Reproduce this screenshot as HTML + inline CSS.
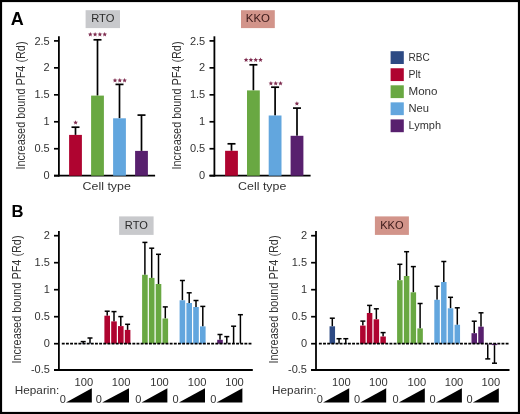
<!DOCTYPE html>
<html><head><meta charset="utf-8"><style>
html,body{margin:0;padding:0;background:#fff;}
body{width:520px;height:414px;overflow:hidden;font-family:"Liberation Sans",sans-serif;}
svg{display:block;will-change:transform;}
</style></head><body>
<svg width="520" height="414" viewBox="0 0 520 414" font-family="Liberation Sans, sans-serif">
<rect x="0" y="0" width="520" height="414" fill="#fff"/>
<text x="10.8" y="24.6" font-size="17.5" text-anchor="start" fill="#000" textLength="13" lengthAdjust="spacingAndGlyphs" font-weight="bold">A</text>
<text x="11.6" y="216.6" font-size="16" text-anchor="start" fill="#000" textLength="12" lengthAdjust="spacingAndGlyphs" font-weight="bold">B</text>
<rect x="85.60" y="10.20" width="34.40" height="17.90" fill="#c8c9cc"/>
<text x="102.8" y="22.2" font-size="11.8" text-anchor="middle" fill="#2a2a2a" textLength="23.2" lengthAdjust="spacingAndGlyphs" >RTO</text>
<line x1="58.9" y1="36.3" x2="58.9" y2="176.6" stroke="#000" stroke-width="1.8" />
<line x1="54.0" y1="175.7" x2="155.1" y2="175.7" stroke="#000" stroke-width="1.8" />
<line x1="54.0" y1="175.7" x2="58.9" y2="175.7" stroke="#000" stroke-width="1.7" />
<text x="49.7" y="179.29999999999998" font-size="11" text-anchor="end" fill="#333333" >0</text>
<line x1="54.0" y1="148.73999999999998" x2="58.9" y2="148.73999999999998" stroke="#000" stroke-width="1.7" />
<text x="49.7" y="152.33999999999997" font-size="11" text-anchor="end" fill="#333333" >0.5</text>
<line x1="54.0" y1="121.77999999999999" x2="58.9" y2="121.77999999999999" stroke="#000" stroke-width="1.7" />
<text x="49.7" y="125.37999999999998" font-size="11" text-anchor="end" fill="#333333" >1</text>
<line x1="54.0" y1="94.82" x2="58.9" y2="94.82" stroke="#000" stroke-width="1.7" />
<text x="49.7" y="98.41999999999999" font-size="11" text-anchor="end" fill="#333333" >1.5</text>
<line x1="54.0" y1="67.85999999999999" x2="58.9" y2="67.85999999999999" stroke="#000" stroke-width="1.7" />
<text x="49.7" y="71.45999999999998" font-size="11" text-anchor="end" fill="#333333" >2</text>
<line x1="54.0" y1="40.89999999999998" x2="58.9" y2="40.89999999999998" stroke="#000" stroke-width="1.7" />
<text x="49.7" y="44.49999999999998" font-size="11" text-anchor="end" fill="#333333" >2.5</text>
<line x1="75.5" y1="134.9" x2="75.5" y2="127.2" stroke="#000" stroke-width="1.7" />
<line x1="71.5" y1="127.2" x2="79.5" y2="127.2" stroke="#000" stroke-width="1.7" />
<rect x="69.10" y="134.90" width="12.80" height="40.80" fill="#af0430"/>
<line x1="97.5" y1="95.6" x2="97.5" y2="39.8" stroke="#000" stroke-width="1.7" />
<line x1="93.5" y1="39.8" x2="101.5" y2="39.8" stroke="#000" stroke-width="1.7" />
<rect x="91.10" y="95.60" width="12.80" height="80.10" fill="#69a842"/>
<line x1="119.5" y1="118.3" x2="119.5" y2="84.4" stroke="#000" stroke-width="1.7" />
<line x1="115.5" y1="84.4" x2="123.5" y2="84.4" stroke="#000" stroke-width="1.7" />
<rect x="113.10" y="118.30" width="12.80" height="57.40" fill="#62a6de"/>
<line x1="141.5" y1="150.9" x2="141.5" y2="115.1" stroke="#000" stroke-width="1.7" />
<line x1="137.5" y1="115.1" x2="145.5" y2="115.1" stroke="#000" stroke-width="1.7" />
<rect x="135.10" y="150.90" width="12.80" height="24.80" fill="#58206e"/>
<polygon points="75.60,120.15 76.25,121.71 77.93,121.84 76.65,122.94 77.04,124.58 75.60,123.70 74.16,124.58 74.55,122.94 73.27,121.84 74.95,121.71" fill="#7f2d50"/>
<polygon points="90.30,32.05 90.95,33.61 92.63,33.74 91.35,34.84 91.74,36.48 90.30,35.60 88.86,36.48 89.25,34.84 87.97,33.74 89.65,33.61" fill="#7f2d50"/>
<polygon points="95.10,32.05 95.75,33.61 97.43,33.74 96.15,34.84 96.54,36.48 95.10,35.60 93.66,36.48 94.05,34.84 92.77,33.74 94.45,33.61" fill="#7f2d50"/>
<polygon points="99.90,32.05 100.55,33.61 102.23,33.74 100.95,34.84 101.34,36.48 99.90,35.60 98.46,36.48 98.85,34.84 97.57,33.74 99.25,33.61" fill="#7f2d50"/>
<polygon points="104.70,32.05 105.35,33.61 107.03,33.74 105.75,34.84 106.14,36.48 104.70,35.60 103.26,36.48 103.65,34.84 102.37,33.74 104.05,33.61" fill="#7f2d50"/>
<polygon points="115.00,77.95 115.65,79.51 117.33,79.64 116.05,80.74 116.44,82.38 115.00,81.50 113.56,82.38 113.95,80.74 112.67,79.64 114.35,79.51" fill="#7f2d50"/>
<polygon points="119.80,77.95 120.45,79.51 122.13,79.64 120.85,80.74 121.24,82.38 119.80,81.50 118.36,82.38 118.75,80.74 117.47,79.64 119.15,79.51" fill="#7f2d50"/>
<polygon points="124.60,77.95 125.25,79.51 126.93,79.64 125.65,80.74 126.04,82.38 124.60,81.50 123.16,82.38 123.55,80.74 122.27,79.64 123.95,79.51" fill="#7f2d50"/>
<text transform="translate(25.3,169.5) rotate(-90)" font-size="13.5" fill="#333333" textLength="128" lengthAdjust="spacingAndGlyphs">Increased bound PF4 (Rd)</text>
<text x="106.69999999999999" y="189.6" font-size="11" text-anchor="middle" fill="#333333" textLength="48.2" lengthAdjust="spacingAndGlyphs" >Cell type</text>
<rect x="241.00" y="10.20" width="33.80" height="17.90" fill="#d2948a"/>
<text x="257.9" y="22.2" font-size="11.8" text-anchor="middle" fill="#3a1818" textLength="24.2" lengthAdjust="spacingAndGlyphs" >KKO</text>
<line x1="214.4" y1="36.3" x2="214.4" y2="176.6" stroke="#000" stroke-width="1.8" />
<line x1="209.5" y1="175.7" x2="310.6" y2="175.7" stroke="#000" stroke-width="1.8" />
<line x1="209.5" y1="175.7" x2="214.4" y2="175.7" stroke="#000" stroke-width="1.7" />
<text x="205.20000000000002" y="179.29999999999998" font-size="11" text-anchor="end" fill="#333333" >0</text>
<line x1="209.5" y1="148.73999999999998" x2="214.4" y2="148.73999999999998" stroke="#000" stroke-width="1.7" />
<text x="205.20000000000002" y="152.33999999999997" font-size="11" text-anchor="end" fill="#333333" >0.5</text>
<line x1="209.5" y1="121.77999999999999" x2="214.4" y2="121.77999999999999" stroke="#000" stroke-width="1.7" />
<text x="205.20000000000002" y="125.37999999999998" font-size="11" text-anchor="end" fill="#333333" >1</text>
<line x1="209.5" y1="94.82" x2="214.4" y2="94.82" stroke="#000" stroke-width="1.7" />
<text x="205.20000000000002" y="98.41999999999999" font-size="11" text-anchor="end" fill="#333333" >1.5</text>
<line x1="209.5" y1="67.85999999999999" x2="214.4" y2="67.85999999999999" stroke="#000" stroke-width="1.7" />
<text x="205.20000000000002" y="71.45999999999998" font-size="11" text-anchor="end" fill="#333333" >2</text>
<line x1="209.5" y1="40.89999999999998" x2="214.4" y2="40.89999999999998" stroke="#000" stroke-width="1.7" />
<text x="205.20000000000002" y="44.49999999999998" font-size="11" text-anchor="end" fill="#333333" >2.5</text>
<line x1="231.5" y1="150.8" x2="231.5" y2="143.8" stroke="#000" stroke-width="1.7" />
<line x1="227.5" y1="143.8" x2="235.5" y2="143.8" stroke="#000" stroke-width="1.7" />
<rect x="225.10" y="150.80" width="12.80" height="24.90" fill="#af0430"/>
<line x1="253.4" y1="90.4" x2="253.4" y2="64.8" stroke="#000" stroke-width="1.7" />
<line x1="249.4" y1="64.8" x2="257.4" y2="64.8" stroke="#000" stroke-width="1.7" />
<rect x="247.00" y="90.40" width="12.80" height="85.30" fill="#69a842"/>
<line x1="275.1" y1="115.5" x2="275.1" y2="87.2" stroke="#000" stroke-width="1.7" />
<line x1="271.1" y1="87.2" x2="279.1" y2="87.2" stroke="#000" stroke-width="1.7" />
<rect x="268.70" y="115.50" width="12.80" height="60.20" fill="#62a6de"/>
<line x1="297.0" y1="135.8" x2="297.0" y2="108.1" stroke="#000" stroke-width="1.7" />
<line x1="293.0" y1="108.1" x2="301.0" y2="108.1" stroke="#000" stroke-width="1.7" />
<rect x="290.60" y="135.80" width="12.80" height="39.90" fill="#58206e"/>
<polygon points="246.10,57.55 246.75,59.11 248.43,59.24 247.15,60.34 247.54,61.98 246.10,61.10 244.66,61.98 245.05,60.34 243.77,59.24 245.45,59.11" fill="#7f2d50"/>
<polygon points="250.90,57.55 251.55,59.11 253.23,59.24 251.95,60.34 252.34,61.98 250.90,61.10 249.46,61.98 249.85,60.34 248.57,59.24 250.25,59.11" fill="#7f2d50"/>
<polygon points="255.70,57.55 256.35,59.11 258.03,59.24 256.75,60.34 257.14,61.98 255.70,61.10 254.26,61.98 254.65,60.34 253.37,59.24 255.05,59.11" fill="#7f2d50"/>
<polygon points="260.50,57.55 261.15,59.11 262.83,59.24 261.55,60.34 261.94,61.98 260.50,61.10 259.06,61.98 259.45,60.34 258.17,59.24 259.85,59.11" fill="#7f2d50"/>
<polygon points="270.90,80.95 271.55,82.51 273.23,82.64 271.95,83.74 272.34,85.38 270.90,84.50 269.46,85.38 269.85,83.74 268.57,82.64 270.25,82.51" fill="#7f2d50"/>
<polygon points="275.70,80.95 276.35,82.51 278.03,82.64 276.75,83.74 277.14,85.38 275.70,84.50 274.26,85.38 274.65,83.74 273.37,82.64 275.05,82.51" fill="#7f2d50"/>
<polygon points="280.50,80.95 281.15,82.51 282.83,82.64 281.55,83.74 281.94,85.38 280.50,84.50 279.06,85.38 279.45,83.74 278.17,82.64 279.85,82.51" fill="#7f2d50"/>
<polygon points="296.90,101.15 297.55,102.71 299.23,102.84 297.95,103.94 298.34,105.58 296.90,104.70 295.46,105.58 295.85,103.94 294.57,102.84 296.25,102.71" fill="#7f2d50"/>
<text transform="translate(180.5,169.5) rotate(-90)" font-size="13.5" fill="#333333" textLength="128" lengthAdjust="spacingAndGlyphs">Increased bound PF4 (Rd)</text>
<text x="262.2" y="189.6" font-size="11" text-anchor="middle" fill="#333333" textLength="48.2" lengthAdjust="spacingAndGlyphs" >Cell type</text>
<rect x="390.60" y="51.20" width="13.20" height="12.80" fill="#2d4a84"/>
<text x="408.5" y="61.2" font-size="11" text-anchor="start" fill="#333333" textLength="21.2" lengthAdjust="spacingAndGlyphs" >RBC</text>
<rect x="390.60" y="68.25" width="13.20" height="12.80" fill="#af0430"/>
<text x="408.5" y="78.25" font-size="11" text-anchor="start" fill="#333333" textLength="12.2" lengthAdjust="spacingAndGlyphs" >Plt</text>
<rect x="390.60" y="85.30" width="13.20" height="12.80" fill="#69a842"/>
<text x="408.5" y="95.30000000000001" font-size="11" text-anchor="start" fill="#333333" textLength="29" lengthAdjust="spacingAndGlyphs" >Mono</text>
<rect x="390.60" y="102.35" width="13.20" height="12.80" fill="#62a6de"/>
<text x="408.5" y="112.35000000000001" font-size="11" text-anchor="start" fill="#333333" textLength="20.5" lengthAdjust="spacingAndGlyphs" >Neu</text>
<rect x="390.60" y="119.40" width="13.20" height="12.80" fill="#58206e"/>
<text x="408.5" y="129.4" font-size="11" text-anchor="start" fill="#333333" textLength="32.5" lengthAdjust="spacingAndGlyphs" >Lymph</text>
<rect x="119.10" y="216.40" width="34.50" height="18.50" fill="#c8c9cc"/>
<text x="136.35" y="229.3" font-size="11.8" text-anchor="middle" fill="#2a2a2a" textLength="23.0" lengthAdjust="spacingAndGlyphs" >RTO</text>
<line x1="58.9" y1="231.0" x2="58.9" y2="370.9" stroke="#000" stroke-width="1.8" />
<line x1="54.0" y1="370.0" x2="252.8" y2="370.0" stroke="#000" stroke-width="1.9" />
<line x1="54.0" y1="235.7" x2="58.9" y2="235.7" stroke="#000" stroke-width="1.7" />
<text x="49.9" y="239.1" font-size="11" text-anchor="end" fill="#333333" >2</text>
<line x1="54.0" y1="262.7" x2="58.9" y2="262.7" stroke="#000" stroke-width="1.7" />
<text x="49.9" y="266.09999999999997" font-size="11" text-anchor="end" fill="#333333" >1.5</text>
<line x1="54.0" y1="289.7" x2="58.9" y2="289.7" stroke="#000" stroke-width="1.7" />
<text x="49.9" y="293.09999999999997" font-size="11" text-anchor="end" fill="#333333" >1</text>
<line x1="54.0" y1="316.7" x2="58.9" y2="316.7" stroke="#000" stroke-width="1.7" />
<text x="49.9" y="320.09999999999997" font-size="11" text-anchor="end" fill="#333333" >0.5</text>
<line x1="54.0" y1="343.7" x2="58.9" y2="343.7" stroke="#000" stroke-width="1.7" />
<text x="49.9" y="347.09999999999997" font-size="11" text-anchor="end" fill="#333333" >0</text>
<line x1="54.0" y1="370.0" x2="58.9" y2="370.0" stroke="#000" stroke-width="1.7" />
<text x="49.9" y="373.4" font-size="11" text-anchor="end" fill="#333333" >-0.5</text>
<line x1="83.19999999999999" y1="343.3" x2="83.19999999999999" y2="341.6" stroke="#000" stroke-width="1.5" />
<line x1="80.69999999999999" y1="341.6" x2="85.69999999999999" y2="341.6" stroke="#000" stroke-width="1.5" />
<rect x="80.40" y="343.30" width="5.60" height="0.40" fill="#2d4a84"/>
<line x1="89.99999999999999" y1="343.2" x2="89.99999999999999" y2="338.0" stroke="#000" stroke-width="1.5" />
<line x1="87.49999999999999" y1="338.0" x2="92.49999999999999" y2="338.0" stroke="#000" stroke-width="1.5" />
<rect x="87.20" y="343.20" width="5.60" height="0.50" fill="#2d4a84"/>
<line x1="107.2" y1="315.7" x2="107.2" y2="311.2" stroke="#000" stroke-width="1.5" />
<line x1="104.7" y1="311.2" x2="109.7" y2="311.2" stroke="#000" stroke-width="1.5" />
<rect x="104.40" y="315.70" width="5.60" height="28.00" fill="#af0430"/>
<line x1="114.0" y1="321.4" x2="114.0" y2="311.6" stroke="#000" stroke-width="1.5" />
<line x1="111.5" y1="311.6" x2="116.5" y2="311.6" stroke="#000" stroke-width="1.5" />
<rect x="111.20" y="321.40" width="5.60" height="22.30" fill="#af0430"/>
<line x1="120.8" y1="326.1" x2="120.8" y2="316.6" stroke="#000" stroke-width="1.5" />
<line x1="118.3" y1="316.6" x2="123.3" y2="316.6" stroke="#000" stroke-width="1.5" />
<rect x="118.00" y="326.10" width="5.60" height="17.60" fill="#af0430"/>
<line x1="127.60000000000001" y1="329.9" x2="127.60000000000001" y2="324.3" stroke="#000" stroke-width="1.5" />
<line x1="125.10000000000001" y1="324.3" x2="130.10000000000002" y2="324.3" stroke="#000" stroke-width="1.5" />
<rect x="124.80" y="329.90" width="5.60" height="13.80" fill="#af0430"/>
<line x1="144.9" y1="274.8" x2="144.9" y2="242.4" stroke="#000" stroke-width="1.5" />
<line x1="142.4" y1="242.4" x2="147.4" y2="242.4" stroke="#000" stroke-width="1.5" />
<rect x="142.10" y="274.80" width="5.60" height="68.90" fill="#69a842"/>
<line x1="151.70000000000002" y1="277.9" x2="151.70000000000002" y2="248.2" stroke="#000" stroke-width="1.5" />
<line x1="149.20000000000002" y1="248.2" x2="154.20000000000002" y2="248.2" stroke="#000" stroke-width="1.5" />
<rect x="148.90" y="277.90" width="5.60" height="65.80" fill="#69a842"/>
<line x1="158.5" y1="284.0" x2="158.5" y2="254.3" stroke="#000" stroke-width="1.5" />
<line x1="156.0" y1="254.3" x2="161.0" y2="254.3" stroke="#000" stroke-width="1.5" />
<rect x="155.70" y="284.00" width="5.60" height="59.70" fill="#69a842"/>
<line x1="165.3" y1="318.5" x2="165.3" y2="306.9" stroke="#000" stroke-width="1.5" />
<line x1="162.8" y1="306.9" x2="167.8" y2="306.9" stroke="#000" stroke-width="1.5" />
<rect x="162.50" y="318.50" width="5.60" height="25.20" fill="#69a842"/>
<line x1="182.4" y1="300.3" x2="182.4" y2="280.5" stroke="#000" stroke-width="1.5" />
<line x1="179.9" y1="280.5" x2="184.9" y2="280.5" stroke="#000" stroke-width="1.5" />
<rect x="179.60" y="300.30" width="5.60" height="43.40" fill="#62a6de"/>
<line x1="189.20000000000002" y1="303.0" x2="189.20000000000002" y2="292.8" stroke="#000" stroke-width="1.5" />
<line x1="186.70000000000002" y1="292.8" x2="191.70000000000002" y2="292.8" stroke="#000" stroke-width="1.5" />
<rect x="186.40" y="303.00" width="5.60" height="40.70" fill="#62a6de"/>
<line x1="196.0" y1="307.0" x2="196.0" y2="300.5" stroke="#000" stroke-width="1.5" />
<line x1="193.5" y1="300.5" x2="198.5" y2="300.5" stroke="#000" stroke-width="1.5" />
<rect x="193.20" y="307.00" width="5.60" height="36.70" fill="#62a6de"/>
<line x1="202.8" y1="326.4" x2="202.8" y2="306.4" stroke="#000" stroke-width="1.5" />
<line x1="200.3" y1="306.4" x2="205.3" y2="306.4" stroke="#000" stroke-width="1.5" />
<rect x="200.00" y="326.40" width="5.60" height="17.30" fill="#62a6de"/>
<line x1="220.0" y1="339.8" x2="220.0" y2="334.5" stroke="#000" stroke-width="1.5" />
<line x1="217.5" y1="334.5" x2="222.5" y2="334.5" stroke="#000" stroke-width="1.5" />
<rect x="217.20" y="339.80" width="5.60" height="3.90" fill="#58206e"/>
<line x1="226.8" y1="343.5" x2="226.8" y2="336.6" stroke="#000" stroke-width="1.5" />
<line x1="224.3" y1="336.6" x2="229.3" y2="336.6" stroke="#000" stroke-width="1.5" />
<line x1="233.6" y1="343.5" x2="233.6" y2="326.2" stroke="#000" stroke-width="1.5" />
<line x1="231.1" y1="326.2" x2="236.1" y2="326.2" stroke="#000" stroke-width="1.5" />
<line x1="240.4" y1="343.5" x2="240.4" y2="314.7" stroke="#000" stroke-width="1.5" />
<line x1="237.9" y1="314.7" x2="242.9" y2="314.7" stroke="#000" stroke-width="1.5" />
<line x1="61.8" y1="343.7" x2="252.3" y2="343.7" stroke="#000" stroke-width="1.8" stroke-dasharray="2.9 1.25"/>
<text transform="translate(21.1,363.5) rotate(-90)" font-size="13.5" fill="#333333" textLength="128" lengthAdjust="spacingAndGlyphs">Increased bound PF4 (Rd)</text>
<text x="14.8" y="393.7" font-size="11" text-anchor="start" fill="#333333" textLength="44.4" lengthAdjust="spacingAndGlyphs" >Heparin:</text>
<polygon points="66.0,402.6 91.8,402.6 91.8,388.3" fill="#000"/>
<text x="65.8" y="402.5" font-size="11" text-anchor="end" fill="#333333" >0</text>
<text x="93.2" y="386.0" font-size="11.2" text-anchor="end" fill="#333333" textLength="18.6" lengthAdjust="spacingAndGlyphs" >100</text>
<polygon points="102.1,402.6 129.0,402.6 129.0,388.3" fill="#000"/>
<text x="101.89999999999999" y="402.5" font-size="11" text-anchor="end" fill="#333333" >0</text>
<text x="130.4" y="386.0" font-size="11.2" text-anchor="end" fill="#333333" textLength="18.6" lengthAdjust="spacingAndGlyphs" >100</text>
<polygon points="141.5,402.6 167.4,402.6 167.4,388.3" fill="#000"/>
<text x="141.3" y="402.5" font-size="11" text-anchor="end" fill="#333333" >0</text>
<text x="168.8" y="386.0" font-size="11.2" text-anchor="end" fill="#333333" textLength="18.6" lengthAdjust="spacingAndGlyphs" >100</text>
<polygon points="178.9,402.6 205.0,402.6 205.0,388.3" fill="#000"/>
<text x="178.70000000000002" y="402.5" font-size="11" text-anchor="end" fill="#333333" >0</text>
<text x="206.4" y="386.0" font-size="11.2" text-anchor="end" fill="#333333" textLength="18.6" lengthAdjust="spacingAndGlyphs" >100</text>
<polygon points="216.5,402.6 242.4,402.6 242.4,388.3" fill="#000"/>
<text x="216.3" y="402.5" font-size="11" text-anchor="end" fill="#333333" >0</text>
<text x="243.8" y="386.0" font-size="11.2" text-anchor="end" fill="#333333" textLength="18.6" lengthAdjust="spacingAndGlyphs" >100</text>
<rect x="374.90" y="216.40" width="34.00" height="18.50" fill="#d2948a"/>
<text x="391.9" y="229.3" font-size="11.8" text-anchor="middle" fill="#3a1818" textLength="23.4" lengthAdjust="spacingAndGlyphs" >KKO</text>
<line x1="316.0" y1="231.0" x2="316.0" y2="370.9" stroke="#000" stroke-width="1.8" />
<line x1="311.1" y1="370.0" x2="509.5" y2="370.0" stroke="#000" stroke-width="1.9" />
<line x1="311.1" y1="235.7" x2="316.0" y2="235.7" stroke="#000" stroke-width="1.7" />
<text x="307.0" y="239.1" font-size="11" text-anchor="end" fill="#333333" >2</text>
<line x1="311.1" y1="262.7" x2="316.0" y2="262.7" stroke="#000" stroke-width="1.7" />
<text x="307.0" y="266.09999999999997" font-size="11" text-anchor="end" fill="#333333" >1.5</text>
<line x1="311.1" y1="289.7" x2="316.0" y2="289.7" stroke="#000" stroke-width="1.7" />
<text x="307.0" y="293.09999999999997" font-size="11" text-anchor="end" fill="#333333" >1</text>
<line x1="311.1" y1="316.7" x2="316.0" y2="316.7" stroke="#000" stroke-width="1.7" />
<text x="307.0" y="320.09999999999997" font-size="11" text-anchor="end" fill="#333333" >0.5</text>
<line x1="311.1" y1="343.7" x2="316.0" y2="343.7" stroke="#000" stroke-width="1.7" />
<text x="307.0" y="347.09999999999997" font-size="11" text-anchor="end" fill="#333333" >0</text>
<line x1="311.1" y1="370.0" x2="316.0" y2="370.0" stroke="#000" stroke-width="1.7" />
<text x="307.0" y="373.4" font-size="11" text-anchor="end" fill="#333333" >-0.5</text>
<line x1="332.3" y1="326.3" x2="332.3" y2="318.2" stroke="#000" stroke-width="1.5" />
<line x1="329.8" y1="318.2" x2="334.8" y2="318.2" stroke="#000" stroke-width="1.5" />
<rect x="329.55" y="326.30" width="5.50" height="17.40" fill="#2d4a84"/>
<line x1="339.05" y1="343.4" x2="339.05" y2="338.7" stroke="#000" stroke-width="1.5" />
<line x1="336.55" y1="338.7" x2="341.55" y2="338.7" stroke="#000" stroke-width="1.5" />
<rect x="336.30" y="343.40" width="5.50" height="0.30" fill="#2d4a84"/>
<line x1="345.8" y1="343.4" x2="345.8" y2="338.7" stroke="#000" stroke-width="1.5" />
<line x1="343.3" y1="338.7" x2="348.3" y2="338.7" stroke="#000" stroke-width="1.5" />
<rect x="343.05" y="343.40" width="5.50" height="0.30" fill="#2d4a84"/>
<line x1="362.85" y1="325.6" x2="362.85" y2="321.1" stroke="#000" stroke-width="1.5" />
<line x1="360.35" y1="321.1" x2="365.35" y2="321.1" stroke="#000" stroke-width="1.5" />
<rect x="360.10" y="325.60" width="5.50" height="18.10" fill="#af0430"/>
<line x1="369.6" y1="313.0" x2="369.6" y2="305.4" stroke="#000" stroke-width="1.5" />
<line x1="367.1" y1="305.4" x2="372.1" y2="305.4" stroke="#000" stroke-width="1.5" />
<rect x="366.85" y="313.00" width="5.50" height="30.70" fill="#af0430"/>
<line x1="376.35" y1="319.3" x2="376.35" y2="308.8" stroke="#000" stroke-width="1.5" />
<line x1="373.85" y1="308.8" x2="378.85" y2="308.8" stroke="#000" stroke-width="1.5" />
<rect x="373.60" y="319.30" width="5.50" height="24.40" fill="#af0430"/>
<line x1="383.1" y1="336.5" x2="383.1" y2="332.6" stroke="#000" stroke-width="1.5" />
<line x1="380.6" y1="332.6" x2="385.6" y2="332.6" stroke="#000" stroke-width="1.5" />
<rect x="380.35" y="336.50" width="5.50" height="7.20" fill="#af0430"/>
<line x1="399.85" y1="280.2" x2="399.85" y2="264.3" stroke="#000" stroke-width="1.5" />
<line x1="397.35" y1="264.3" x2="402.35" y2="264.3" stroke="#000" stroke-width="1.5" />
<rect x="397.10" y="280.20" width="5.50" height="63.50" fill="#69a842"/>
<line x1="406.6" y1="276.0" x2="406.6" y2="251.7" stroke="#000" stroke-width="1.5" />
<line x1="404.1" y1="251.7" x2="409.1" y2="251.7" stroke="#000" stroke-width="1.5" />
<rect x="403.85" y="276.00" width="5.50" height="67.70" fill="#69a842"/>
<line x1="413.35" y1="292.3" x2="413.35" y2="266.6" stroke="#000" stroke-width="1.5" />
<line x1="410.85" y1="266.6" x2="415.85" y2="266.6" stroke="#000" stroke-width="1.5" />
<rect x="410.60" y="292.30" width="5.50" height="51.40" fill="#69a842"/>
<line x1="420.1" y1="328.4" x2="420.1" y2="303.5" stroke="#000" stroke-width="1.5" />
<line x1="417.6" y1="303.5" x2="422.6" y2="303.5" stroke="#000" stroke-width="1.5" />
<rect x="417.35" y="328.40" width="5.50" height="15.30" fill="#69a842"/>
<line x1="437.05" y1="299.8" x2="437.05" y2="286.3" stroke="#000" stroke-width="1.5" />
<line x1="434.55" y1="286.3" x2="439.55" y2="286.3" stroke="#000" stroke-width="1.5" />
<rect x="434.30" y="299.80" width="5.50" height="43.90" fill="#62a6de"/>
<line x1="443.8" y1="282.0" x2="443.8" y2="261.5" stroke="#000" stroke-width="1.5" />
<line x1="441.3" y1="261.5" x2="446.3" y2="261.5" stroke="#000" stroke-width="1.5" />
<rect x="441.05" y="282.00" width="5.50" height="61.70" fill="#62a6de"/>
<line x1="450.55" y1="308.3" x2="450.55" y2="297.3" stroke="#000" stroke-width="1.5" />
<line x1="448.05" y1="297.3" x2="453.05" y2="297.3" stroke="#000" stroke-width="1.5" />
<rect x="447.80" y="308.30" width="5.50" height="35.40" fill="#62a6de"/>
<line x1="457.3" y1="324.8" x2="457.3" y2="307.8" stroke="#000" stroke-width="1.5" />
<line x1="454.8" y1="307.8" x2="459.8" y2="307.8" stroke="#000" stroke-width="1.5" />
<rect x="454.55" y="324.80" width="5.50" height="18.90" fill="#62a6de"/>
<line x1="474.25" y1="333.2" x2="474.25" y2="321.2" stroke="#000" stroke-width="1.5" />
<line x1="471.75" y1="321.2" x2="476.75" y2="321.2" stroke="#000" stroke-width="1.5" />
<rect x="471.50" y="333.20" width="5.50" height="10.50" fill="#58206e"/>
<line x1="481.0" y1="326.7" x2="481.0" y2="312.8" stroke="#000" stroke-width="1.5" />
<line x1="478.5" y1="312.8" x2="483.5" y2="312.8" stroke="#000" stroke-width="1.5" />
<rect x="478.25" y="326.70" width="5.50" height="17.00" fill="#58206e"/>
<line x1="487.75" y1="344.2" x2="487.75" y2="358.9" stroke="#000" stroke-width="1.5" />
<line x1="485.25" y1="358.9" x2="490.25" y2="358.9" stroke="#000" stroke-width="1.5" />
<rect x="485.00" y="343.70" width="5.50" height="0.50" fill="#58206e"/>
<line x1="494.5" y1="345.1" x2="494.5" y2="363.2" stroke="#000" stroke-width="1.5" />
<line x1="492.0" y1="363.2" x2="497.0" y2="363.2" stroke="#000" stroke-width="1.5" />
<rect x="491.75" y="343.70" width="5.50" height="1.40" fill="#58206e"/>
<line x1="318.9" y1="343.7" x2="508.8" y2="343.7" stroke="#000" stroke-width="1.8" stroke-dasharray="2.9 1.25"/>
<text transform="translate(278.0,363.5) rotate(-90)" font-size="13.5" fill="#333333" textLength="128" lengthAdjust="spacingAndGlyphs">Increased bound PF4 (Rd)</text>
<text x="272.1" y="393.7" font-size="11" text-anchor="start" fill="#333333" textLength="44.4" lengthAdjust="spacingAndGlyphs" >Heparin:</text>
<polygon points="323.1,402.6 349.2,402.6 349.2,388.3" fill="#000"/>
<text x="322.90000000000003" y="402.5" font-size="11" text-anchor="end" fill="#333333" >0</text>
<text x="350.59999999999997" y="386.0" font-size="11.2" text-anchor="end" fill="#333333" textLength="18.6" lengthAdjust="spacingAndGlyphs" >100</text>
<polygon points="360.2,402.6 386.2,402.6 386.2,388.3" fill="#000"/>
<text x="360.0" y="402.5" font-size="11" text-anchor="end" fill="#333333" >0</text>
<text x="387.59999999999997" y="386.0" font-size="11.2" text-anchor="end" fill="#333333" textLength="18.6" lengthAdjust="spacingAndGlyphs" >100</text>
<polygon points="398.7,402.6 424.8,402.6 424.8,388.3" fill="#000"/>
<text x="398.5" y="402.5" font-size="11" text-anchor="end" fill="#333333" >0</text>
<text x="426.2" y="386.0" font-size="11.2" text-anchor="end" fill="#333333" textLength="18.6" lengthAdjust="spacingAndGlyphs" >100</text>
<polygon points="435.9,402.6 461.9,402.6 461.9,388.3" fill="#000"/>
<text x="435.7" y="402.5" font-size="11" text-anchor="end" fill="#333333" >0</text>
<text x="463.29999999999995" y="386.0" font-size="11.2" text-anchor="end" fill="#333333" textLength="18.6" lengthAdjust="spacingAndGlyphs" >100</text>
<polygon points="472.8,402.6 498.8,402.6 498.8,388.3" fill="#000"/>
<text x="472.6" y="402.5" font-size="11" text-anchor="end" fill="#333333" >0</text>
<text x="500.2" y="386.0" font-size="11.2" text-anchor="end" fill="#333333" textLength="18.6" lengthAdjust="spacingAndGlyphs" >100</text>
<rect x="1" y="1" width="518" height="412" fill="none" stroke="#000" stroke-width="2.2"/>
</svg>
</body></html>
